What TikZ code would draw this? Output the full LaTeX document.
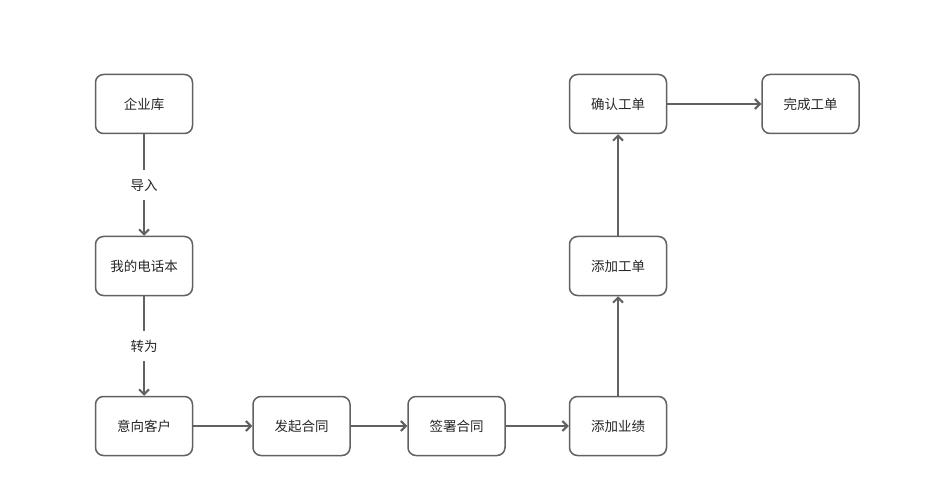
\documentclass[tikz,border=0pt]{standalone}
\usepackage{fontspec}
\newfontfamily\cjk{Noto Sans CJK SC}
\usetikzlibrary{calc,shapes,arrows.meta}

\begin{document}
\begin{tikzpicture}[x=1pt,y=-1pt,
	>={Straight Barb[length=5pt,width=10pt]},
	box/.style={draw=black!62,line width=1.5pt,rounded corners=8pt,minimum width=97pt,minimum height=59pt,inner sep=0pt,font=\cjk\fontsize{13.5}{16}\selectfont,text=black!85},
	link/.style={draw=black!62,line width=2pt,->},
	lbl/.style={fill=white,font=\cjk\fontsize{13.5}{16}\selectfont,text=black!85,inner xsep=4pt,inner ysep=9pt}]
		\useasboundingbox (0,0) rectangle (931,494);
		\node [box] (1) at (144, 104) {企业库};
		\node [box] (2) at (144, 266) {我的电话本};
		\node [box] (3) at (144, 426) {意向客户};
		\node [box] (4) at (301.5, 426) {发起合同};
		\node [box] (5) at (456.5, 426) {签署合同};
		\node [box] (6) at (618, 426) {添加业绩};
		\node [box] (7) at (618, 266) {添加工单};
		\node [box] (8) at (618, 104) {确认工单};
		\node [box] (9) at (810.5, 104) {完成工单};
		\draw [link] (1) to node [lbl] {导入} (2);
		\draw [link] (2) to node [lbl] {转为} (3);
		\draw [link] (3) to (4);
		\draw [link] (4) to (5);
		\draw [link] (5) to (6);
		\draw [link] (6) to (7);
		\draw [link] (7) to (8);
		\draw [link] (8) to (9);
\end{tikzpicture}
\end{document}
